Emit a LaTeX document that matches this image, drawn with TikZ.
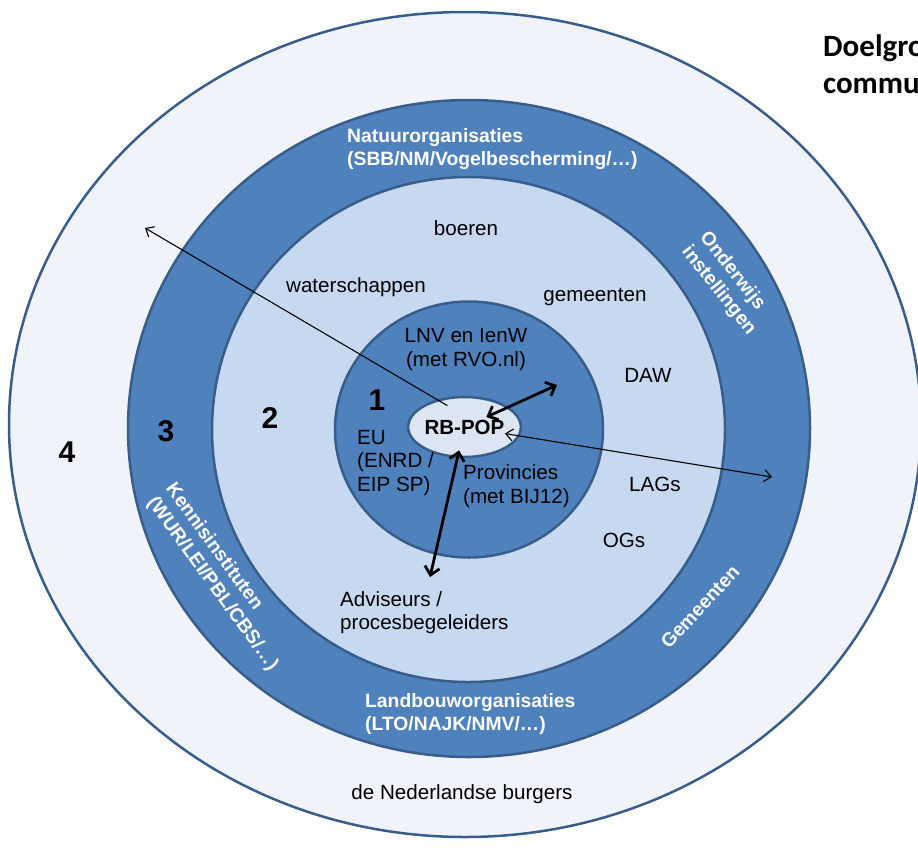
\documentclass[tikz,border=0pt]{standalone}
\usepackage{fontspec}
\setmainfont{Liberation Sans}
\newfontfamily\calibfont{Carlito}
\usetikzlibrary{arrows.meta,shapes.geometric}
\definecolor{ringdark}{HTML}{4F81BD}
\definecolor{ringlight}{HTML}{C6D9F1}
\definecolor{outerfill}{HTML}{F0F4FA}
\definecolor{corefill}{HTML}{DCE6F2}
\definecolor{edgeblue}{HTML}{385D8A}
\tikzset{
  thinbarb/.tip={Straight Barb[length=7pt,width=12pt]},
  thickbarb/.tip={Straight Barb[length=8pt,width=15pt]},
}
\begin{document}
\begin{tikzpicture}[x=1pt,y=-1pt,
  ring/.style={draw=edgeblue, line width=2.5pt},
  txt/.style={font=\fontsize{20.6}{23.5}\selectfont, inner sep=0pt, text=black},
  wtxt/.style={font=\bfseries\fontsize{19.3}{23}\selectfont, inner sep=0pt, text=white},
  num/.style={font=\bfseries\fontsize{30}{30}\selectfont, inner sep=0pt, text=black},
  title/.style={font=\calibfont\bfseries\fontsize{31}{36}\selectfont, inner sep=0pt, text=black},
  thinline/.style={line width=1.1pt, draw=black},
  thickline/.style={line width=2.8pt, draw=black},
]
\useasboundingbox (0,0) rectangle (918,847);
\clip (0,0) rectangle (918,847);
\fill[white] (0,0) rectangle (918,847);

% rings
\draw[ring, fill=outerfill] (465,424.5) ellipse [x radius=456, y radius=412.5];
\draw[ring, fill=ringdark] (469,428.5) ellipse [x radius=341, y radius=328.5];
\draw[ring, fill=ringlight] (468.5,429.5) ellipse [x radius=256.5, y radius=252.5];
\draw[ring, fill=ringdark] (469,429.5) ellipse [x radius=134, y radius=128];

% centre
\node[ellipse, draw=edgeblue, line width=2.5pt, fill=corefill, minimum width=105pt,
      minimum height=60pt, inner sep=0pt, font=\bfseries\fontsize{20.5}{24}\selectfont]
      (rb) at (464.5,427) {RB-POP};

% title (cut by the page edge)
\node[title, anchor=base west] (t1) at (823,56) {Doelgro};
\node[title, anchor=base west] (t2) at (823,93) {commu};

% numbers
\node[num] (n4) at (67,452) {4};
\node[num] (n3) at (166,431) {3};
\node[num] (n2) at (270,418) {2};
\node[num] (n1) at (377,400) {1};

% ring 3 labels
\node[wtxt, anchor=west, align=left] (nat) at (347,149) {Natuurorganisaties\\(SBB/NM/Vogelbescherming/…)};
\node[wtxt, anchor=west, align=left] (lbo) at (365,713.5) {Landbouworganisaties\\(LTO/NAJK/NMV/…)};
\node[wtxt, anchor=west, align=left, rotate=-51.5] (ond) at (694,241.5) {Onderwijs\\instellingen};
\node[wtxt, anchor=west, align=left, rotate=-54] (ken) at (160,492.5) {Kennisinstituten\\(WUR/LEI/PBL/CBS/…)};
\node[wtxt, rotate=47] (gem3) at (700,607) {Gemeenten};

% ring 2 labels
\node[txt] (boe) at (466,228) {boeren};
\node[txt] (wat) at (356,287) {waterschappen};
\node[txt] (gem2) at (595,297) {gemeenten};
\node[txt] (daw) at (648,375) {DAW};
\node[txt] (lag) at (655,484) {LAGs};
\node[txt] (ogs) at (624,540) {OGs};
\node[txt, anchor=west, align=left] (adv) at (340,612.5) {Adviseurs /\\procesbegeleiders};

% ring 4 label
\node[txt] (bur) at (462,794) {de Nederlandse burgers};

% ring 1 labels
\node[txt, align=center] (lnv) at (466,349.5) {LNV en IenW\\(met RVO.nl)};
\node[txt, anchor=west, align=left] (eu) at (357,463) {EU\\(ENRD /\\EIP SP)};
\node[txt, anchor=west, align=left] (prov) at (463,486) {Provincies\\(met BIJ12)};

% arrows
\coordinate (c1) at (145,228);
\coordinate (c2) at (772,477);
\coordinate (c3) at (557,385);
\coordinate (c4) at (430,577);
\draw[thinline, -{thinbarb}, shorten <=-12pt] (rb.135) -- (c1);
\draw[thinline, {thinbarb}-{thinbarb}, shorten <=41pt] (rb.center) -- (c2);
\draw[thickline, {thickbarb}-{thickbarb}, shorten <=24pt] (rb.center) -- (c3);
\draw[thickline, {thickbarb}-{thickbarb}, shorten <=24pt] (rb.center) -- (c4);
\end{tikzpicture}
\end{document}
